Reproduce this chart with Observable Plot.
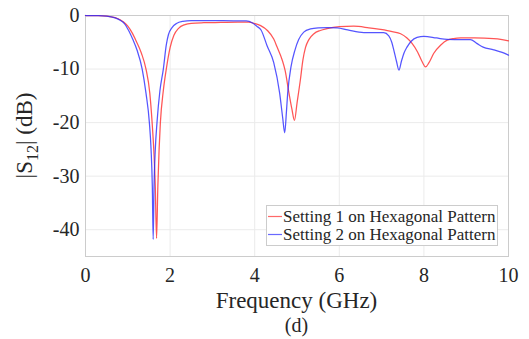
<!DOCTYPE html>
<html>
<head>
<meta charset="utf-8">
<script src="https://cdn.jsdelivr.net/npm/d3@7"></script>
<script src="https://cdn.jsdelivr.net/npm/@observablehq/plot@0.6"></script>
<style>
  html, body { margin: 0; padding: 0; background: #fff; }
  #chart { position: relative; width: 529px; height: 339px; }
  #chart svg text { font-family: "Liberation Serif", "Times New Roman", serif; }
</style>
</head>
<body>
<div id="chart"></div>
<script>
// Setting 1 (red)
const freqRed = [0, 0.3, 0.5, 0.7, 0.83, 0.9, 1.0, 1.1, 1.2, 1.32, 1.43, 1.52, 1.575, 1.62, 1.65, 1.68, 1.71, 1.74, 1.77, 1.84, 1.91, 2.0, 2.09, 2.2, 2.35, 2.5, 2.8, 3.2, 3.6, 3.85, 4.0, 4.14, 4.3, 4.45, 4.53, 4.65, 4.72, 4.81, 4.88, 4.94, 5.0, 5.08, 5.14, 5.2, 5.28, 5.4, 5.55, 5.71, 6.0, 6.34, 6.7, 6.97, 7.25, 7.45, 7.6, 7.72, 7.85, 7.95, 8.04, 8.12, 8.23, 8.4, 8.55, 8.7, 8.87, 9.2, 9.65, 9.85, 10];
const s12Red  = [0, -0.02, -0.1, -0.4, -0.85, -1.2, -2.0, -3.2, -4.8, -7.0, -10, -14.5, -20, -26, -32, -41.6, -32, -25, -20, -14, -10, -6, -3.7, -2.4, -1.7, -1.45, -1.35, -1.3, -1.25, -1.25, -1.5, -1.9, -2.8, -4.4, -5.9, -8.3, -10.3, -14.5, -17.5, -19.6, -16.4, -12.0, -8.3, -6.0, -4.5, -3.4, -2.8, -2.45, -2.1, -2.0, -2.3, -2.6, -3.0, -3.4, -4.2, -5.2, -6.8, -8.5, -9.6, -8.8, -7.1, -5.5, -4.6, -4.3, -4.2, -4.2, -4.3, -4.5, -4.75];

// Setting 2 (blue)
const freqBlue = [0, 0.3, 0.5, 0.7, 0.83, 0.92, 1.02, 1.12, 1.22, 1.34, 1.43, 1.51, 1.55, 1.58, 1.6, 1.62, 1.65, 1.69, 1.76, 1.84, 1.91, 1.96, 2.05, 2.15, 2.3, 2.5, 3.0, 3.5, 3.8, 3.95, 4.05, 4.15, 4.29, 4.45, 4.59, 4.66, 4.71, 4.75, 4.78, 4.86, 4.95, 5.04, 5.16, 5.32, 5.5, 5.71, 5.95, 6.2, 6.58, 7.05, 7.17, 7.24, 7.29, 7.35, 7.41, 7.47, 7.53, 7.6, 7.7, 7.84, 8.0, 8.3, 8.55, 8.9, 9.1, 9.25, 9.4, 9.65, 9.85, 10];
const s12Blue  = [0, -0.02, -0.1, -0.45, -0.95, -1.5, -2.8, -4.5, -6.5, -10, -14.5, -20, -25, -32, -41.8, -32, -25, -20, -14, -10, -5.5, -3.6, -2.2, -1.5, -1.1, -0.95, -0.95, -1.0, -1.0, -1.4, -2.0, -2.7, -5.6, -8.8, -14.5, -19, -21.9, -18, -14.5, -9.5, -6.5, -4.5, -3.1, -2.5, -2.3, -2.25, -2.3, -2.7, -3.2, -3.2, -3.8, -5.0, -6.5, -8.5, -10.2, -8.5, -7.0, -5.9, -4.8, -4.1, -3.9, -4.2, -4.45, -4.5, -4.5, -5.2, -5.9, -6.4, -6.9, -7.4];

const xTicks = [0, 2, 4, 6, 8, 10];
const yTicks = [0, -10, -20, -30, -40];
const seriesNames = ["Setting 1 on Hexagonal Pattern", "Setting 2 on Hexagonal Pattern"];
const seriesColors = ["#ff2a2a", "#2a2aff"];

const red = freqRed.map((f, i) => ({f, v: s12Red[i]}));
const blue = freqBlue.map((f, i) => ({f, v: s12Blue[i]}));

const W = 529, H = 339;
const mL = 85, mR = 21, mT = 15, mB = 83;
const font = "Liberation Serif, Times New Roman, serif";

const plot = Plot.plot({
  width: W, height: H,
  marginLeft: mL, marginRight: mR, marginTop: mT, marginBottom: mB,
  style: {fontFamily: font, fontSize: "20px", color: "#262626", background: "#fff"},
  x: {domain: [0, 10], ticks: xTicks, tickSize: 0, tickPadding: 11, label: null, tickFormat: d => String(d)},
  y: {domain: [-45, 0], ticks: yTicks, tickSize: 0, tickPadding: 6, label: null, tickFormat: d => String(d)},
  marks: [
    Plot.ruleX(xTicks, {stroke: "#ebebeb", strokeWidth: 1}),
    Plot.ruleY(yTicks, {stroke: "#ebebeb", strokeWidth: 1}),
    Plot.frame({stroke: "#cccccc", strokeWidth: 1}),
    Plot.line(red, {x: "f", y: "v", stroke: seriesColors[0], strokeWidth: 1.25, strokeOpacity: 0.8, curve: "monotone-x"}),
    Plot.line(blue, {x: "f", y: "v", stroke: seriesColors[1], strokeWidth: 1.25, strokeOpacity: 0.8, curve: "monotone-x"})
  ]
});

document.getElementById("chart").appendChild(plot);

const svg = d3.select(plot);

// x-axis label
svg.append("text")
  .attr("x", (mL + W - mR) / 2).attr("y", 300)
  .attr("text-anchor", "middle").attr("dominant-baseline", "central")
  .attr("font-family", font).attr("font-size", 23).attr("fill", "#262626")
  .text("Frequency (GHz)");

// caption
svg.append("text")
  .attr("x", (mL + W - mR) / 2).attr("y", 325)
  .attr("text-anchor", "middle").attr("dominant-baseline", "central")
  .attr("font-family", font).attr("font-size", 20).attr("fill", "#262626")
  .text("(d)");

// y-axis label with subscript
const yl = svg.append("text")
  .attr("transform", `translate(32,${(mT + H - mB) / 2}) rotate(-90)`)
  .attr("text-anchor", "middle")
  .attr("font-family", font).attr("font-size", 23).attr("fill", "#262626");
yl.append("tspan").text("|S");
yl.append("tspan").attr("font-size", 16).attr("dy", "0.35em").text("12");
yl.append("tspan").attr("dy", "-0.25em").text("| (dB)");

// legend
const lg = svg.append("g");
lg.append("rect").attr("x", 266.5).attr("y", 205.5).attr("width", 231).attr("height", 40)
  .attr("fill", "#fff").attr("stroke", "#cccccc");
seriesNames.forEach((name, i) => {
  const cy = 216.5 + i * 18;
  lg.append("line").attr("x1", 268).attr("x2", 282).attr("y1", cy).attr("y2", cy)
    .attr("stroke", seriesColors[i]).attr("stroke-width", 1.2).attr("stroke-opacity", 0.7);
  lg.append("text").attr("x", 283).attr("y", cy)
    .attr("text-anchor", "start").attr("dominant-baseline", "central")
    .attr("font-family", font).attr("font-size", 17).attr("fill", "#262626").text(name);
});
</script>
</body>
</html>
